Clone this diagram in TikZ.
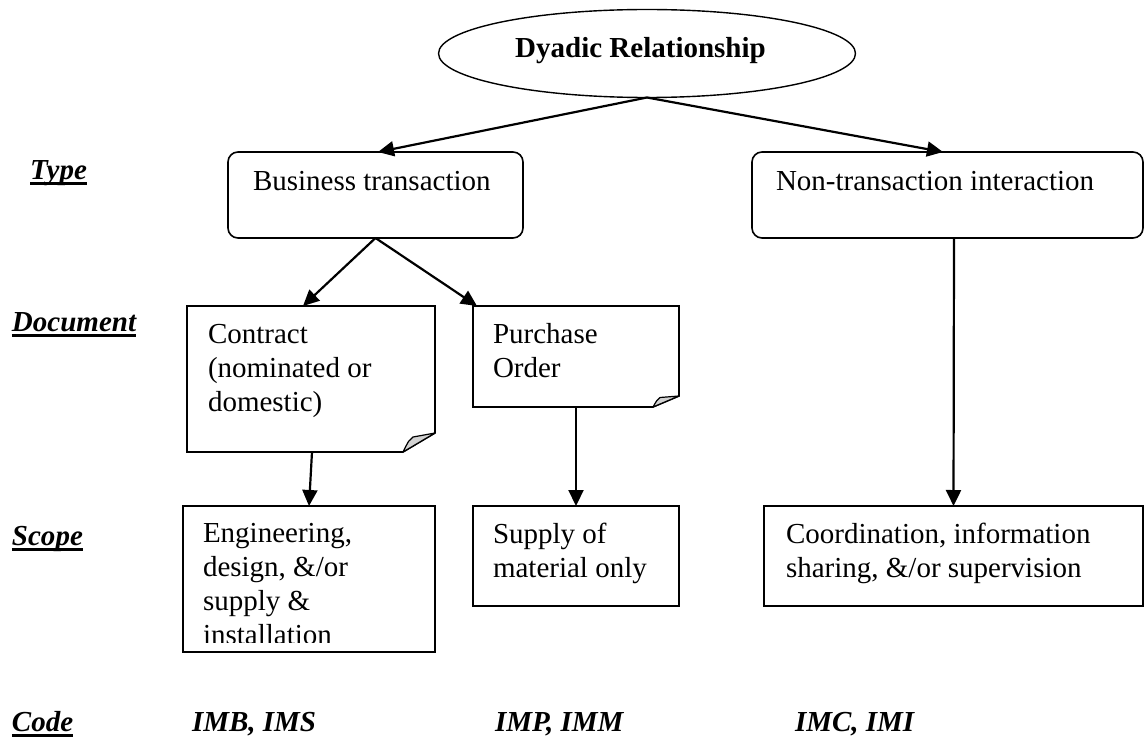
\documentclass[tikz,border=0pt]{standalone}
\usepackage{fontspec}
\setmainfont{Liberation Serif}
\usetikzlibrary{arrows.meta,shapes.geometric,calc}

% underlined row heading
\newcommand\rowhead[1]{\setbox0\hbox{\bfseries\itshape #1}\rlap{\rule[-5.5pt]{\wd0}{2.4pt}}\box0}
% top-aligned multi-line box text
\newcommand\boxtext[1]{\parbox[t]{360pt}{\raggedright #1}}

\begin{document}
\begin{tikzpicture}[x=1pt,y=-1pt,
  every node/.style={font=\fontsize{29}{34}\selectfont, inner sep=0pt, outer sep=0pt},
  frame/.style={draw, rectangle, line width=1.6pt},
  slot/.style={rectangle, draw=none},
  flap/.style={fill=gray!35, draw, line width=1.2pt, line join=round},
  arr/.style={line width=2.2pt, -{Triangle[length=16pt,width=15pt]}},
  txt/.style={anchor=base west},
  code/.style={anchor=base west, font=\fontsize{29}{34}\selectfont\bfseries\itshape}
]
\useasboundingbox (0,0) rectangle (1145,738);

% ---- boxes ----
\node[ellipse, draw, line width=1.4pt, minimum width=417, minimum height=88] (dyad) at (647,53.5) {};
\node[frame, rounded corners=10pt, minimum width=295, minimum height=86] (business) at (375.5,195) {};
\node[frame, rounded corners=10pt, minimum width=391, minimum height=86] (nontrans) at (947.5,195) {};
\node[slot, minimum width=248, minimum height=146] (contract) at (311,379) {};
\node[slot, minimum width=206, minimum height=101] (purchase) at (576,356.5) {};
\node[frame, minimum width=252, minimum height=146] (engin) at (309,579) {};
\node[frame, minimum width=206, minimum height=100] (supply) at (576,556) {};
\node[frame, minimum width=379, minimum height=100] (coord) at (953.5,556) {};

% document sheets with a folded corner
\draw[line width=1.6pt, line join=miter]
  (contract.north west) -- (contract.north east) -- ($(contract.south east)+(0,-19)$)
  -- ($(contract.south east)+(-32,0)$) -- (contract.south west) -- cycle;
\draw[flap] ($(contract.south east)+(-32,0)$) .. controls ($(contract.south east)+(-26,-12)$) .. ($(contract.south east)+(-22,-15)$)
  -- ($(contract.south east)+(0,-19)$) -- cycle;
\draw[line width=1.6pt, line join=miter]
  (purchase.north west) -- (purchase.north east) -- ($(purchase.south east)+(0,-11)$)
  -- ($(purchase.south east)+(-26,0)$) -- (purchase.south west) -- cycle;
\draw[flap] ($(purchase.south east)+(-26,0)$) .. controls ($(purchase.south east)+(-22,-7)$) .. ($(purchase.south east)+(-19,-9.5)$)
  -- ($(purchase.south east)+(0,-11)$) -- cycle;

% ---- texts ----
\node[anchor=base, font=\fontsize{29}{34}\selectfont\bfseries] (dyadtxt) at (640.5,58) {Dyadic Relationship};
\node[txt] (businesstxt) at (253,191) {Business transaction};
\node[txt] (nontranstxt) at (776,191) {Non-transaction interaction};
\node[txt] (contracttxt) at (208,343) {\boxtext{Contract\\(nominated or\\domestic)}};
\node[txt] (purchasetxt) at (493,343) {\boxtext{Purchase\\Order}};
\begin{scope}
  \clip (184,507) rectangle (434,642);
  \node[txt] (engintxt) at (203,542) {\boxtext{Engineering,\\design, \&/or\\supply \&\\installation}};
\end{scope}
\node[txt] (supplytxt) at (493,543) {\boxtext{Supply of\\material only}};
\node[txt] (coordtxt) at (786,543) {\boxtext{Coordination, information\\sharing, \&/or supervision}};

% ---- row headings and codes ----
\node[txt] (typehd) at (30,179) {\rowhead{Type}};
\node[txt] (dochd) at (12,331) {\rowhead{Document}};
\node[txt] (scopehd) at (12,545) {\rowhead{Scope}};
\node[txt] (codehd) at (12,731) {\rowhead{Code}};
\node[code] (codeb) at (192,731) {IMB, IMS};
\node[code] (codep) at (495,731) {IMP, IMM};
\node[code] (codec) at (795,731) {IMC, IMI};

% ---- connectors ----
\draw[arr] (dyad.south) -- ($(business.north)+(2.5,0)$);
\draw[arr] (dyad.south) -- ($(nontrans.north)+(-4.5,0)$);
\draw[arr] (business.south) -- ($(contract.north)+(-8,0)$);
\draw[arr] (business.south) -- ($(purchase.north west)+(4,0)$);
\draw[arr] ($(contract.south)+(1,0)$) -- (engin.north);
\draw[arr] (purchase.south) -- (supply.north);
\draw[arr] ($(nontrans.south)+(6.5,0)$) -- (coord.north);
\end{tikzpicture}
\end{document}
